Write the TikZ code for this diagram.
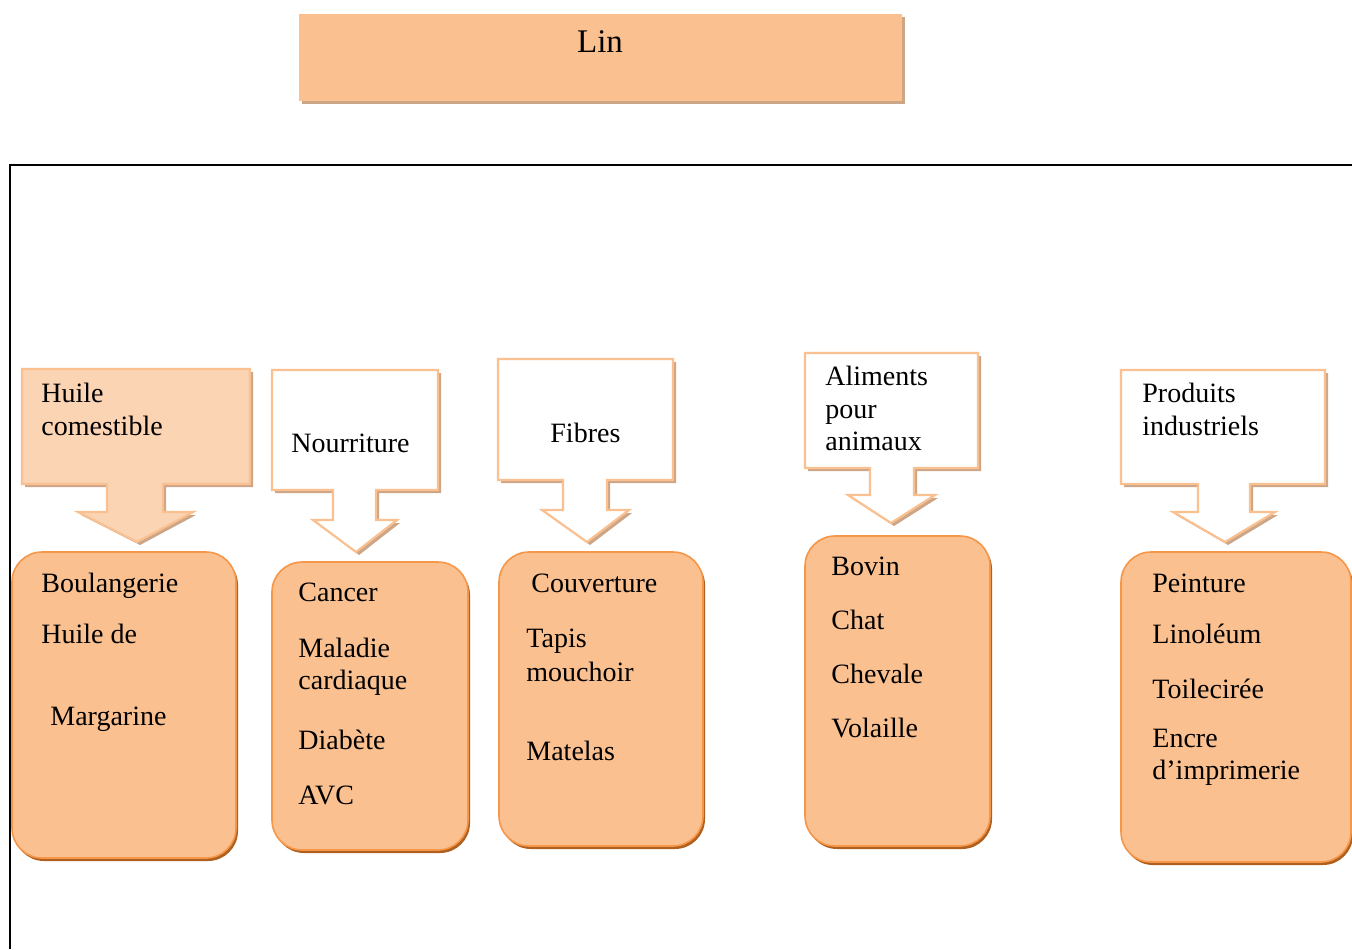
\documentclass[tikz,border=0pt]{standalone}
\usepackage{fontspec}
\setmainfont{Liberation Serif}
\usepackage{tikz}

\definecolor{peche}{RGB}{250,192,144}
\definecolor{pechepale}{RGB}{251,212,180}
\definecolor{orangebord}{RGB}{245,150,72}
\definecolor{ombrebrun}{RGB}{175,95,30}
\definecolor{ombregris}{RGB}{205,165,135}

\begin{document}
\begin{tikzpicture}
				[x=0.5pt,y=-0.5pt,
				every node/.style={font=\fontsize{14}{17}\selectfont,anchor=base west,inner sep=0pt},
				fleche/.style={draw=peche,line width=1.1pt},
				bloc/.style={draw=orangebord,line width=0.8pt,fill=peche,rounded corners=15pt},
				blocombre/.style={fill=ombrebrun,rounded corners=15pt}]
				\useasboundingbox (0,0) rectangle (1352,949);
				
				% titre
				\fill[ombregris] (302,17) rectangle (905,104);
				\fill[peche] (299,14) rectangle (902,101);
				\node[anchor=base,font=\fontsize{16.5}{19}\selectfont] (lin) at (600,52) {Lin};
				
				% cadre
				\draw[line width=0.8pt] (10,949) -- (10,165) -- (1352,165);
				
				% fleches
				\foreach \l/\r/\t/\b/\sl/\sr/\sb/\hl/\hr/\tx/\ty/\c in {
					22/250/369/484/107/163/512/78/193/137/542/pechepale,
					272/438/370/490/333/376/520/313/397/356/552/white,
					498/673/359/480/563/607/510/542/629/587/542/white,
					805/978/353/468/870/914/495/848/935/891/523/white,
					1121/1325/370/484/1198/1250/512/1173/1275/1225/542/white}
				{
				\fill[ombregris,shift={(3,3)}] (\l,\t) -- (\r,\t) -- (\r,\b) -- (\sr,\b) -- (\sr,\sb) -- (\hr,\sb) -- (\tx,\ty) -- (\hl,\sb) -- (\sl,\sb) -- (\sl,\b) -- (\l,\b) -- cycle;
				\filldraw[fleche,fill=\c] (\l,\t) -- (\r,\t) -- (\r,\b) -- (\sr,\b) -- (\sr,\sb) -- (\hr,\sb) -- (\tx,\ty) -- (\hl,\sb) -- (\sl,\sb) -- (\sl,\b) -- (\l,\b) -- cycle;
				}
				
				% blocs
				\foreach \l/\t/\r/\b in {12/552/236/858,272/562/468/850,499/552/703/846,805/536/990/846,1121/552/1351/862}
				{
				\fill[blocombre] (\l+2,\t+3) rectangle (\r+2,\b+3);
				\draw[bloc] (\l,\t) rectangle (\r,\b);
				}
				
				\node (huile1) at (41,402) {Huile};
				\node (huile2) at (41,435) {comestible};
				\node (nour) at (291,452) {Nourriture};
				\node (fib) at (550,442) {Fibres};
				\node (alim1) at (825,385) {Aliments};
				\node (alim2) at (825,418) {pour};
				\node (alim3) at (825,450) {animaux};
				\node (prod1) at (1142,402) {Produits};
				\node (prod2) at (1142,435) {industriels};
				
				\node (b1a) at (41,592) {Boulangerie};
				\node (b1b) at (41,643) {Huile de};
				\node (b1c) at (50,725) {Margarine};
				
				\node (b2a) at (298,601) {Cancer};
				\node (b2b) at (298,657) {Maladie};
				\node (b2c) at (298,689) {cardiaque};
				\node (b2d) at (298,749) {Diabète};
				\node (b2e) at (298,804) {AVC};
				
				\node (b3a) at (531,592) {Couverture};
				\node (b3b) at (526,647) {Tapis};
				\node (b3c) at (526,681) {mouchoir};
				\node (b3d) at (526,760) {Matelas};
				
				\node (b4a) at (831,575) {Bovin};
				\node (b4b) at (831,629) {Chat};
				\node (b4c) at (831,683) {Chevale};
				\node (b4d) at (831,737) {Volaille};
				
				\node (b5a) at (1152,592) {Peinture};
				\node (b5b) at (1152,643) {Linoléum};
				\node (b5c) at (1152,698) {Toilecirée};
				\node (b5d) at (1152,747) {Encre};
				\node (b5e) at (1152,779) {d’imprimerie};
				\end{tikzpicture}
\end{document}
